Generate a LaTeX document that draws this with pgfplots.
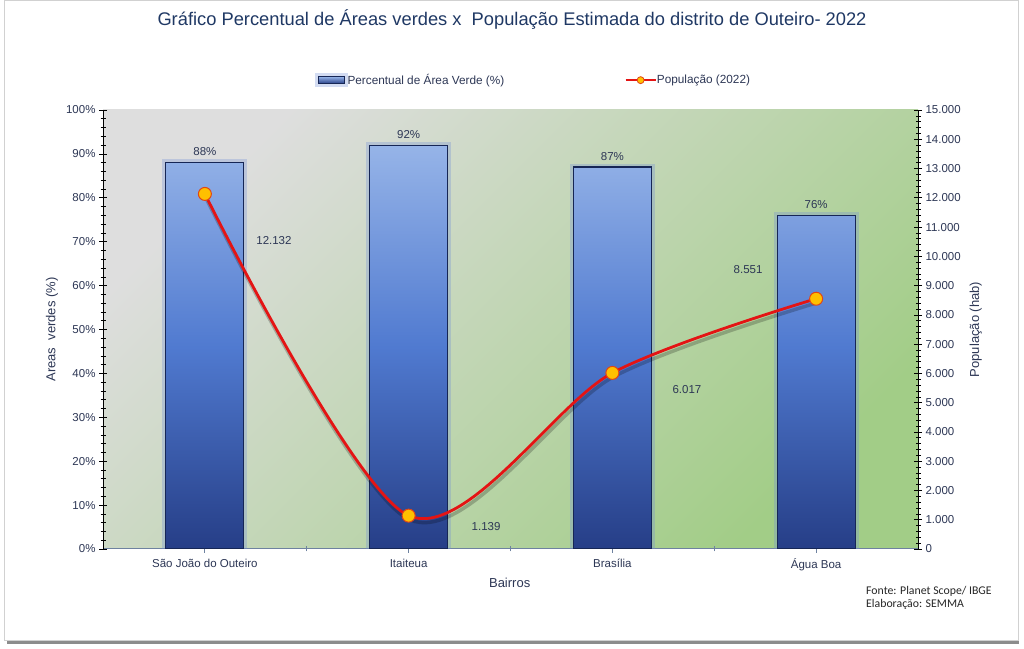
\documentclass[border=0pt]{standalone}
\usepackage{pgfplots}
\pgfplotsset{compat=1.18}
\usepackage{pgfplotstable}
\usepackage{fontspec}
\setmainfont{Liberation Sans}
\newfontfamily\carlito{Carlito}
\definecolor{titlec}{RGB}{31,56,100}
\definecolor{tickc}{RGB}{45,55,85}
\definecolor{bgA}{RGB}{222,222,222}
\definecolor{bgB}{RGB}{162,205,135}
\definecolor{barT}{RGB}{150,180,232}
\definecolor{barM}{RGB}{80,122,208}
\definecolor{barB}{RGB}{38,62,135}
\definecolor{barE}{RGB}{22,38,85}
\definecolor{glow}{RGB}{110,140,215}
\definecolor{lineR}{RGB}{228,20,20}
\definecolor{markF}{RGB}{255,192,0}
\definecolor{markE}{RGB}{225,70,20}
\definecolor{xaxc}{RGB}{110,130,160}

\pgfplotstableread{
x pct pop
0 88 12132
1 92 1139
2 87 6017
3 76 8551
}\datatab

\begin{document}
\begin{tikzpicture}
\fill[white] (0bp,0bp) rectangle (1024bp,649bp);
\fill[black!45] (7bp,4.5bp) rectangle (1019bp,9.5bp);
\filldraw[draw=black!18, fill=white] (4.5bp,9bp) rectangle (1018.5bp,648.5bp);
\node[font=\fontsize{18.3bp}{21bp}\selectfont, text=titlec] at (512bp,629bp) {Gráfico Percentual de Áreas verdes x~ População Estimada do distrito de Outeiro- 2022};
\node[font=\carlito\fontsize{11.8bp}{13bp}\selectfont, text=black!85, anchor=north west, align=left, inner sep=0pt] at (866bp,63bp) {Fonte: Planet Scope/ IBGE\\Elaboração: SEMMA};

\begin{axis}[
  at={(103bp,100bp)}, anchor=south west,
  scale only axis, width=815bp, height=439bp,
  xmin=-0.5, xmax=3.5, ymin=0, ymax=100,
  axis x line*=bottom, axis y line*=left,
  axis line style={-},
  x axis line style={draw=xaxc, line width=1bp},
  y axis line style={draw=black, line width=0.8bp},
  axis background/.style={top color=bgA, bottom color=bgB, shading angle=45},
  xtick={0,1,2,3},
  xticklabels={São João do Outeiro, Itaiteua, Brasília, Água Boa},
  typeset ticklabels with strut,
  xticklabel style={yshift=-2bp},
  minor x tick num=1,
  ytick={0,10,...,100},
  minor y tick num=4,
  yticklabel={\pgfmathprintnumber{\tick}\%},
  /pgf/number format/assume math mode=true,
  tick align=center,
  major tick length=8bp, minor tick length=5bp,
  tick style={black, line width=0.6bp},
  x tick style={xaxc, line width=0.8bp},
  tick label style={font=\fontsize{11.5bp}{13bp}\selectfont, text=tickc},
  xlabel={Bairros},
  xlabel style={at={(axis description cs:0.499,-0.077)}, anchor=center, font=\fontsize{13bp}{15bp}\selectfont, text=tickc},
  ylabel={Areas~ verdes (\%)},
  ylabel style={at={(axis description cs:-0.0626,0.5)}, anchor=center, font=\fontsize{13bp}{15bp}\selectfont, text=tickc},
  legend image code/.code={\draw[mark repeat=2,mark phase=2,#1] plot coordinates {(0bp,0bp) (15bp,0bp) (30bp,0bp)};},
  legend style={at={(0.528,1.068)}, anchor=center, draw=none, fill=none,
    legend columns=2, font=\fontsize{11.8bp}{13bp}\selectfont, text=tickc,
    /tikz/every even column/.append style={column sep=118bp},
    /tikz/every odd column/.append style={column sep=-2bp}},
]
\addplot[ybar, bar width=78bp, bar shift=0pt,
  preaction={draw=glow, draw opacity=0.3, line width=7bp},
  draw=barE, line width=1.2bp,
  top color=barT, bottom color=barB, middle color=barM,
  point meta=y,
  nodes near coords={\pgfmathprintnumber{\pgfplotspointmeta}\%},
  every node near coord/.append style={font=\fontsize{11.5bp}{13bp}\selectfont, text=tickc, yshift=3bp},
  legend image code/.code={\draw[draw=barE, line width=0.8bp, top color=barT, bottom color=barB] (0bp,-3.5bp) rectangle (26bp,3.5bp);}
] table[x=x,y=pct]{\datatab};
\addlegendentry{Percentual de Área Verde (\%)}
\addlegendimage{lineR, line width=2.6bp, mark=*, mark size=3.5bp, mark options={fill=markF, draw=markE, line width=0.8bp}}
\addlegendentry{População (2022)}
\end{axis}

\begin{axis}[
  at={(103bp,100bp)}, anchor=south west,
  scale only axis, width=815bp, height=439bp,
  xmin=-0.5, xmax=3.5, ymin=0, ymax=15000,
  axis y line*=right, axis x line=none,
  axis line style={-},
  y axis line style={draw=black, line width=0.8bp},
  ytick={0,1000,...,15000},
  minor y tick num=4,
  scaled y ticks=false,
  yticklabel style={/pgf/number format/.cd, 1000 sep={.}, fixed, assume math mode=true},
  tick align=center,
  major tick length=8bp, minor tick length=5bp,
  tick style={black, line width=0.6bp},
  tick label style={font=\fontsize{11.5bp}{13bp}\selectfont, text=tickc},
  ylabel={População (hab)},
  ylabel style={at={(axis description cs:1.071,0.5)}, anchor=center, font=\fontsize{13bp}{15bp}\selectfont, text=tickc},
]
\addplot[black, opacity=0.22, line width=3.5bp, smooth, forget plot,
  transform canvas={xshift=1bp, yshift=-4bp}] table[x=x,y=pop]{\datatab};
\addplot[lineR, line width=2.8bp, smooth, mark=*, mark size=6.5bp,
  mark options={fill=markF, draw=markE, line width=1bp}] table[x=x,y=pop]{\datatab};
\node[font=\fontsize{11.5bp}{13bp}\selectfont, text=tickc] at (axis cs:0.339,10524) {12.132};
\node[font=\fontsize{11.5bp}{13bp}\selectfont, text=tickc] at (axis cs:1.38,752) {1.139};
\node[font=\fontsize{11.5bp}{13bp}\selectfont, text=tickc] at (axis cs:2.366,5433) {6.017};
\node[font=\fontsize{11.5bp}{13bp}\selectfont, text=tickc] at (axis cs:2.666,9533) {8.551};
\end{axis}
\end{tikzpicture}
\end{document}
